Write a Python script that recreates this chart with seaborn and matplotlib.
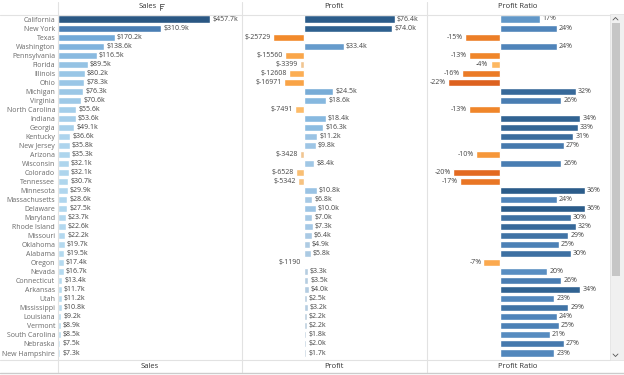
import matplotlib
matplotlib.use('Agg')
import matplotlib.pyplot as plt
import seaborn as sns
import pandas as pd
from matplotlib.colors import LinearSegmentedColormap
from matplotlib.lines import Line2D
from matplotlib.patches import Rectangle

# data
states = ['California', 'New York', 'Texas', 'Washington', 'Pennsylvania', 'Florida',
          'Illinois', 'Ohio', 'Michigan', 'Virginia', 'North Carolina', 'Indiana',
          'Georgia', 'Kentucky', 'New Jersey', 'Arizona', 'Wisconsin', 'Colorado',
          'Tennessee', 'Minnesota', 'Massachusetts', 'Delaware', 'Maryland',
          'Rhode Island', 'Missouri', 'Oklahoma', 'Alabama', 'Oregon', 'Nevada',
          'Connecticut', 'Arkansas', 'Utah', 'Mississippi', 'Louisiana', 'Vermont',
          'South Carolina', 'Nebraska', 'New Hampshire']
sales_k = [457.7, 310.9, 170.2, 138.6, 116.5, 89.5, 80.2, 78.3, 76.3, 70.6, 55.6, 53.6,
           49.1, 36.6, 35.8, 35.3, 32.1, 32.1, 30.7, 29.9, 28.6, 27.5, 23.7, 22.6, 22.2,
           19.7, 19.5, 17.4, 16.7, 13.4, 11.7, 11.2, 10.8, 9.2, 8.9, 8.5, 7.5, 7.3]
profit = [76400, 74000, -25729, 33400, -15560, -3399, -12608, -16971, 24500, 18600,
          -7491, 18400, 16300, 11200, 9800, -3428, 8400, -6528, -5342, 10800, 6800,
          10000, 7000, 7300, 6400, 4900, 5800, -1190, 3300, 3500, 4000, 2500, 3200,
          2200, 2200, 1800, 2000, 1700]
profit_ratio = [17, 24, -15, 24, -13, -4, -16, -22, 32, 26, -13, 34, 33, 31, 27, -10, 26,
                -20, -17, 36, 24, 36, 30, 32, 29, 25, 30, -7, 20, 26, 34, 23, 29, 24, 25,
                21, 27, 23]

df = pd.DataFrame({'state': states, 'sales': sales_k, 'profit': profit,
                   'ratio': profit_ratio})

# tableau-ish colour ramps
seq = LinearSegmentedColormap.from_list('blue', [(0, '#b9ddf1'), (0.36, '#72a9d8'),
                                                 (0.67, '#4a7fb5'), (1, '#2a5783')])
div = LinearSegmentedColormap.from_list('ob', [
    (0.0, '#9e3d22'), (0.2, '#e0641f'), (0.33, '#f28a2b'), (0.4, '#fba84c'),
    (0.45, '#fdbb66'), (0.475, '#f3c58e'), (0.49, '#e9c49c'), (0.5, '#d8d4d0'),
    (0.505, '#c6d1dc'), (0.52, '#b6cde0'), (0.55, '#a3c8e6'), (0.625, '#85b8df'),
    (0.725, '#6399ca'), (0.835, '#4f84ba'), (1.0, '#2b5c8a')])

smin, smax = min(sales_k), max(sales_k)
pal_sales = {s: seq((v - smin) / (smax - smin)) for s, v in zip(states, sales_k)}
pmax = max(abs(v) for v in profit)
pal_profit = {s: div((v / pmax + 1) / 2) for s, v in zip(states, profit)}
rmax = max(abs(v) for v in profit_ratio)
pal_ratio = {s: div((v / rmax + 1) / 2) for s, v in zip(states, profit_ratio)}

sns.set_theme(style='white')
plt.rcParams['font.family'] = ['Open Sans', 'DejaVu Sans']

W, H = 624, 375
fig = plt.figure(figsize=(6.24, 3.75), dpi=100)


def fx(px):
    return px / W


def fy(py):
    return 1 - py / H


TOP, BOT = 15, 360
ROW = (353 - 19) / 37


def panel(x0, x1, col, pal, xlim, fmt):
    ax = fig.add_axes([fx(x0), fy(BOT), fx(x1 - x0), (BOT - TOP) / H])
    sns.barplot(data=df, x=col, y='state', hue='state', palette=pal, legend=False,
                orient='h', width=0.78, saturation=1, ax=ax)
    ax.set_xlim(*xlim)
    ax.set_ylim(37 + (BOT - 353) / ROW, -(19 - TOP) / ROW)
    for i, v in enumerate(df[col]):
        ax.annotate(fmt(v), (v, i), xytext=(1.5 if v >= 0 else -1.5, 0),
                    textcoords='offset points', ha='left' if v >= 0 else 'right',
                    va='center', fontsize=5, color='#444444')
    ax.set_xlabel('')
    ax.set_ylabel('')
    ax.set_xticks([])
    for sp in ax.spines.values():
        sp.set_visible(False)
    ax.patch.set_alpha(0)
    return ax


ax1 = panel(58, 242, 'sales', pal_sales, (0, 554), lambda v: f'${v:.1f}k')
ax1.tick_params(axis='y', length=0, pad=2, labelsize=5, labelcolor='#6a6a6a')
ax2 = panel(242, 427, 'profit', pal_profit, (-52050, 103300),
            lambda v: f'${v / 1000:.1f}k' if v >= 0 else f'${v:.0f}')
ax2.set_yticks([])
ax3 = panel(427, 610, 'ratio', pal_ratio, (-30.9, 46.6), lambda v: f'{v:.0f}%')
ax3.set_yticks([])

# headers and footers
for name, cx, hx in [('Sales', 150, 148), ('Profit', 334, 334),
                     ('Profit Ratio', 518, 518)]:
    fig.text(fx(hx), fy(7), name, ha='center', va='center', fontsize=5.5, color='#333333')
    fig.text(fx(cx), fy(367), name, ha='center', va='center', fontsize=5.5, color='#333333')

# sort icon next to "Sales"
for k, ln in enumerate([4, 3, 2]):
    fig.add_artist(Line2D([fx(159.5), fx(159.5 + ln)], [fy(4 + 2 * k), fy(4 + 2 * k)],
                          color='#555555', lw=0.6))
fig.add_artist(Line2D([fx(159.5), fx(159.5)], [fy(3.5), fy(10)], color='#555555', lw=0.6))

# grid lines
line_c = '#e2e2e2'
for x in [58, 242, 427]:
    fig.add_artist(Line2D([fx(x), fx(x)], [fy(2), fy(372)], color=line_c, lw=0.8))
for y in [TOP, BOT]:
    fig.add_artist(Line2D([fx(0), fx(610)], [fy(y), fy(y)], color=line_c, lw=0.8))
fig.add_artist(Line2D([0, 1], [fy(373), fy(373)], color='#cccccc', lw=1))

# scrollbar
fig.add_artist(Rectangle((fx(610), fy(360)), fx(14), (360 - 14) / H,
                         facecolor='#f0f0f0', edgecolor='#e0e0e0', lw=0.5))
fig.add_artist(Rectangle((fx(611.5), fy(276)), fx(8.5), (276 - 23) / H,
                         facecolor='#c6c6c6', edgecolor='none'))
fig.add_artist(Line2D([fx(613), fx(615.5), fx(618)], [fy(20), fy(17.5), fy(20)],
                      color='#555555', lw=0.6))
fig.add_artist(Line2D([fx(613), fx(615.5), fx(618)], [fy(354), fy(356.5), fy(354)],
                      color='#555555', lw=0.6))

fig.savefig('out.png', dpi=100)
